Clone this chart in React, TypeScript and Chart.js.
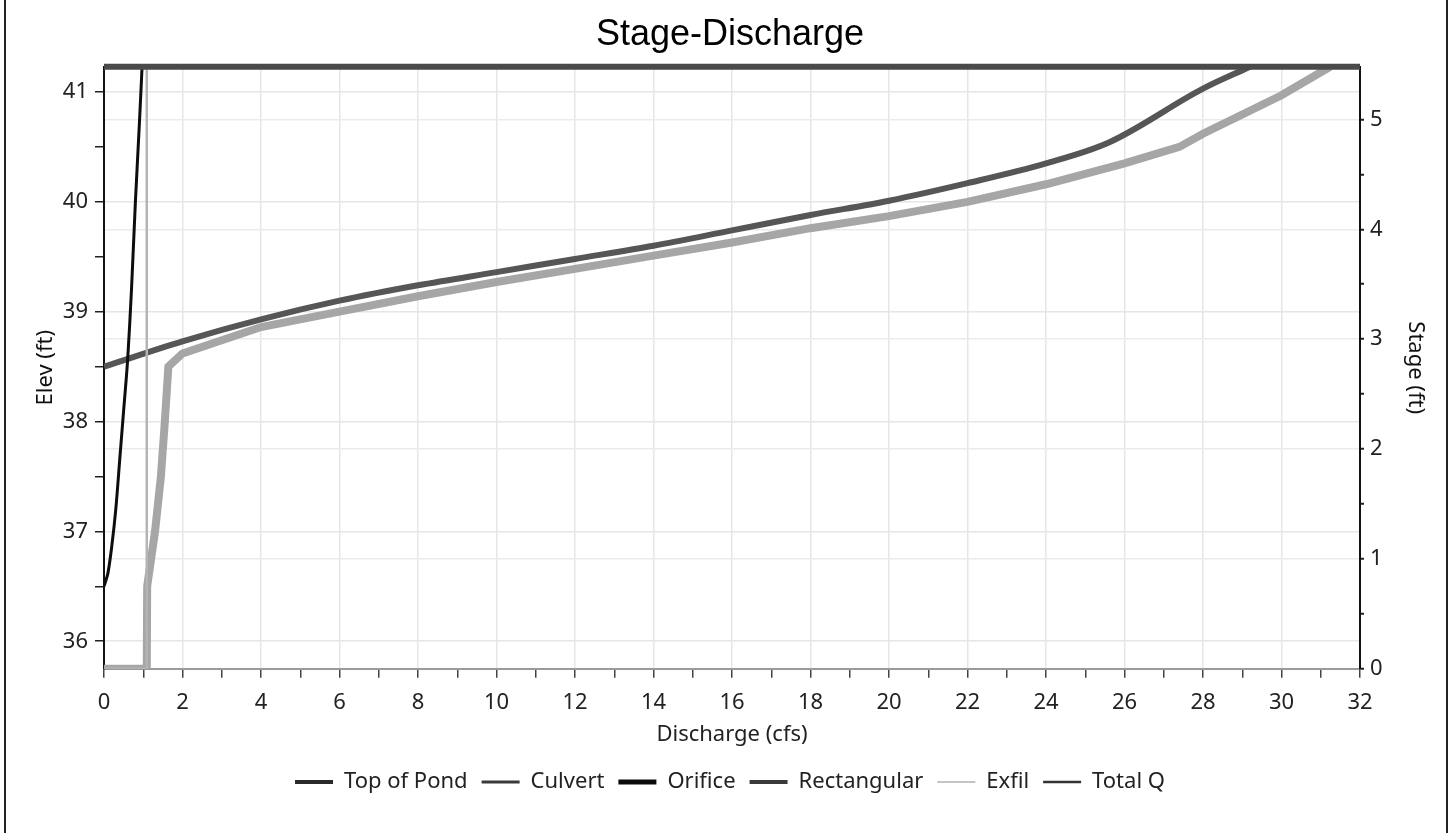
import React, { useEffect, useRef } from "react";
import { Chart, registerables } from "chart.js";

Chart.register(...registerables);

// ---- Data ----
const elevMin = 35.75;
const elevMax = 41.23;

const topOfPondQ = [0, 32];
const topOfPondElev = [41.23, 41.23];

const culvertQ: number[] = [];
const culvertElev: number[] = [];

const orificeQ = [0, 0.1, 0.2, 0.3, 0.4, 0.5, 0.6, 0.7, 0.8, 0.9, 0.97];
const orificeElev = [36.5, 36.62, 36.87, 37.2, 37.65, 38.1, 38.55, 39.2, 40.0, 40.7, 41.23];

const rectangularQ = [0, 2, 4, 6, 8, 10, 12, 14, 16, 18, 20, 22, 24, 25.6, 28, 29.2];
const rectangularElev = [38.5, 38.73, 38.93, 39.1, 39.24, 39.36, 39.48, 39.6, 39.74, 39.88, 40.01, 40.17, 40.35, 40.54, 41.03, 41.23];

const exfilQ = [0, 1.09, 1.09];
const exfilElev = [35.75, 35.75, 41.23];

const totalQ = [0, 1.09, 1.1, 1.3, 1.45, 1.55, 1.64, 2, 4, 6, 8, 10, 12, 14, 16, 18, 20, 22, 24, 26, 27.4, 28, 30, 31.24];
const totalElev = [35.75, 35.75, 36.5, 37.0, 37.5, 38.0, 38.5, 38.62, 38.86, 39.0, 39.14, 39.27, 39.39, 39.51, 39.63, 39.76, 39.87, 40.0, 40.16, 40.35, 40.5, 40.62, 40.97, 41.23];

const xTickValues = Array.from({ length: 33 }, (_, i) => i);
const elevTickValues = [36, 36.5, 37, 37.5, 38, 38.5, 39, 39.5, 40, 40.5, 41];
const stageTickValues = [0, 0.5, 1, 1.5, 2, 2.5, 3, 3.5, 4, 4.5, 5];

const legendNames = ["Top of Pond", "Culvert", "Orifice", "Rectangular", "Exfil", "Total Q"];

const pts = (xs: number[], ys: number[]) => xs.map((x, i) => ({ x, y: ys[i] }));

const FONT = "'Noto Sans', 'Open Sans', sans-serif";

export default function App() {
  const ref = useRef<HTMLCanvasElement | null>(null);

  useEffect(() => {
    if (!ref.current) return;
    const legendStyles = [
      { color: "#2a2a2a", width: 4 },
      { color: "#3a3a3a", width: 3 },
      { color: "#0a0a0a", width: 5 },
      { color: "#3a3a3a", width: 4 },
      { color: "#c4c4c4", width: 2 },
      { color: "#333333", width: 2.5 },
    ];
    const chart = new Chart(ref.current, {
      type: "line",
      data: {
        datasets: [
          { label: "Top of Pond", data: pts(topOfPondQ, topOfPondElev), borderColor: "#4a4a4a", borderWidth: 6, pointRadius: 0, order: 0, yAxisID: "y", clip: false },
          { label: "Culvert", data: pts(culvertQ, culvertElev), borderColor: "#3a3a3a", borderWidth: 3, pointRadius: 0, order: 3, yAxisID: "y" },
          { label: "Orifice", data: pts(orificeQ, orificeElev), borderColor: "#0d0d0d", borderWidth: 3, pointRadius: 0, order: 2, yAxisID: "y", tension: 0.3 },
          { label: "Rectangular", data: pts(rectangularQ, rectangularElev), borderColor: "#565656", borderWidth: 6, pointRadius: 0, order: 4, yAxisID: "y", cubicInterpolationMode: "monotone" },
          { label: "Exfil", data: pts(exfilQ, exfilElev), borderColor: "#b4b4b4", borderWidth: 2.5, pointRadius: 0, order: 1, yAxisID: "y" },
          { label: "Total Q", data: pts(totalQ, totalElev), borderColor: "#a6a6a6", borderWidth: 8, pointRadius: 0, order: 5, yAxisID: "y", tension: 0 },
        ],
      },
      options: {
        responsive: false,
        animation: false,
        events: [],
        layout: { padding: { left: 28, right: 20, top: 0, bottom: 30 } },
        plugins: {
          title: {
            display: true,
            text: "Stage-Discharge",
            color: "#000",
            font: { family: "'Liberation Sans', Arial, sans-serif", size: 36, weight: "normal", lineHeight: 1.2 },
            padding: { top: 13.5, bottom: 10 },
          },
          tooltip: { enabled: false },
          legend: {
            position: "bottom",
            labels: {
              color: "#222",
              font: { family: FONT, size: 22 },
              usePointStyle: true,
              pointStyleWidth: 38,
              padding: 14,
              generateLabels: () =>
                legendNames.map((name, i) => ({
                  text: name,
                  fillStyle: legendStyles[i].color,
                  strokeStyle: legendStyles[i].color,
                  lineWidth: legendStyles[i].width,
                  pointStyle: "line",
                  hidden: false,
                  datasetIndex: i,
                  fontColor: "#222",
                })),
            },
          },
        },
        scales: {
          x: {
            type: "linear",
            min: 0,
            max: 32,
            afterBuildTicks: (s: any) => { s.ticks = xTickValues.map((v) => ({ value: v })); },
            afterFit: (s: any) => { s.height = 88.3; },
            ticks: {
              autoSkip: false,
              maxRotation: 0,
              color: "#222",
              font: { family: FONT, size: 22 },
              padding: 12,
              callback: (v: any) => (Number(v) % 2 === 0 ? String(v) : ""),
            },
            grid: {
              color: (c: any) => (c.tick && c.tick.value % 2 === 0 && c.tick.value > 0 && c.tick.value < 32 ? "#e6e6e6" : "rgba(0,0,0,0)"),
              lineWidth: 1.5,
              tickColor: "#444",
              tickLength: 9,
              tickWidth: 1.5,
            },
            border: { color: "#9a9a9a", width: 2 },
            title: {
              display: true,
              text: "Discharge (cfs)",
              color: "#222",
              font: { family: FONT, size: 22 },
              padding: { top: 4, bottom: 9 },
            },
          },
          y: {
            type: "linear",
            position: "left",
            min: elevMin,
            max: elevMax,
            afterBuildTicks: (s: any) => { s.ticks = elevTickValues.map((v) => ({ value: v })); },
            afterFit: (s: any) => { s.width = 76; },
            ticks: {
              autoSkip: false,
              color: "#222",
              font: { family: FONT, size: 22 },
              padding: 7,
              callback: (v: any) => (Number.isInteger(Number(v)) ? String(v) : ""),
            },
            grid: {
              color: (c: any) => (c.tick && Number.isInteger(c.tick.value) ? "#e6e6e6" : "rgba(0,0,0,0)"),
              lineWidth: 1.5,
              tickColor: "#222",
              tickLength: 9,
              tickWidth: 1.5,
            },
            border: { color: "#111", width: 2 },
            title: {
              display: true,
              text: "Elev (ft)",
              color: "#111",
              font: { family: FONT, size: 22 },
              padding: 5,
            },
          },
          y1: {
            type: "linear",
            position: "right",
            min: 0,
            max: elevMax - elevMin,
            afterBuildTicks: (s: any) => { s.ticks = stageTickValues.map((v) => ({ value: v })); },
            afterFit: (s: any) => { s.width = 72; },
            ticks: {
              autoSkip: false,
              color: "#222",
              font: { family: FONT, size: 22 },
              padding: 6,
              callback: (v: any) => (Number.isInteger(Number(v)) ? String(v) : ""),
            },
            grid: {
              color: (c: any) => (c.tick && Number.isInteger(c.tick.value) && c.tick.value > 0 ? "#ebebeb" : "rgba(0,0,0,0)"),
              lineWidth: 1.5,
              tickColor: "#222",
              tickLength: 4,
              tickWidth: 2,
            },
            border: { color: "#111", width: 2 },
            title: {
              display: true,
              text: "Stage (ft)",
              color: "#111",
              font: { family: FONT, size: 22 },
              padding: 4,
            },
          },
        },
      },
    } as any);
    return () => chart.destroy();
  }, []);

  return (
    <div style={{ position: "fixed", left: 0, top: 0, width: 1452, height: 833, background: "#fff", overflow: "hidden" }}>
      <canvas ref={ref} width={1452} height={833} style={{ display: "block", width: 1452, height: 833 }} />
      <div style={{ position: "absolute", left: 4, top: 0, width: 2, height: 833, background: "#222" }} />
      <div style={{ position: "absolute", left: 1446, top: 0, width: 2, height: 833, background: "#222" }} />
    </div>
  );
}
